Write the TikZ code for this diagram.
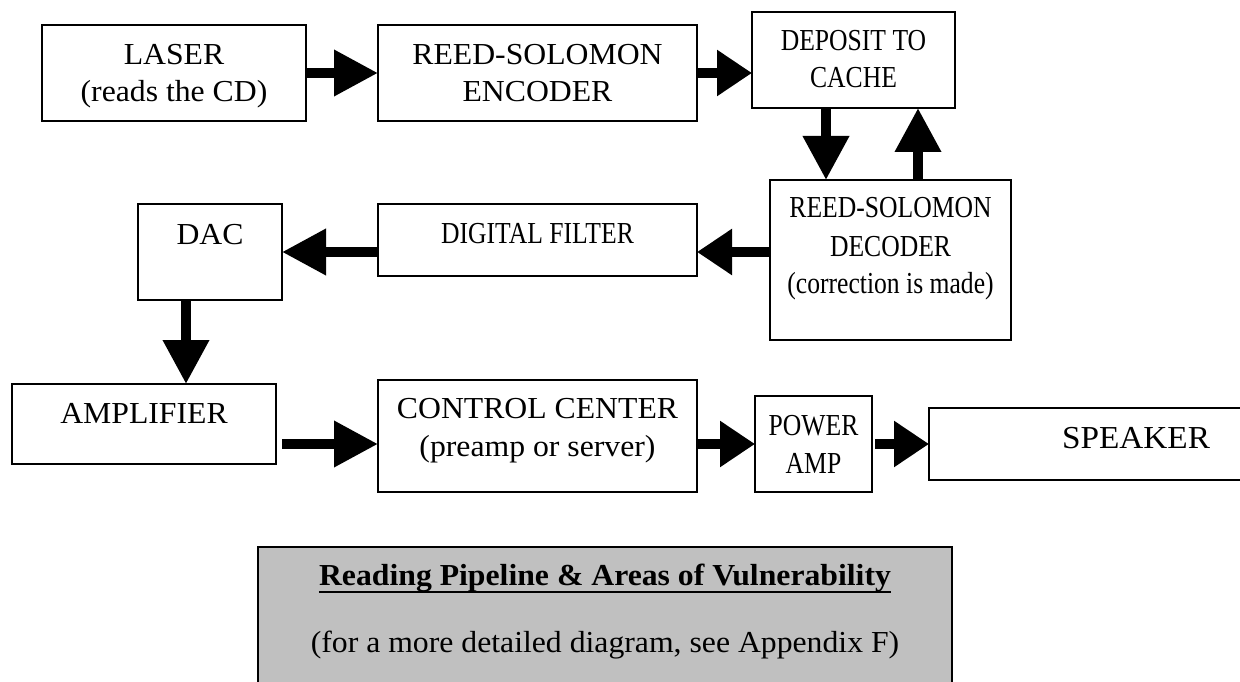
\documentclass[tikz,border=0pt]{standalone}
\usepackage{fontspec}
\setmainfont{Liberation Serif}[FakeStretch=1.04]
\newfontfamily\narrowfont{Liberation Serif}[FakeStretch=0.84]
\usetikzlibrary{arrows.meta}
\definecolor{notegray}{HTML}{C0C0C0}
\tikzset{
  box/.style={draw, line width=1.1pt, inner sep=0pt, outer sep=0pt, fill=white},
  lbl/.style={anchor=base, inner sep=0pt, font=\fontsize{30.5}{38}\selectfont},
  nlbl/.style={lbl, font=\fontsize{30.5}{38}\selectfont\narrowfont},
  blk/.style={line width=10pt, -{Triangle[length=44pt,width=44pt]}},
  blkshort/.style={-{Triangle[length=35pt,width=44pt]}},
}
\begin{document}
\begin{tikzpicture}[x=1pt,y=-1pt]
\useasboundingbox (0,0) rectangle (1240,682);
\clip (0,0) rectangle (1240,682);

% stage boxes
\node[box, minimum width=264pt, minimum height=96pt]  (laser) at (174,73) {};
\node[box, minimum width=319pt, minimum height=96pt]  (enc)   at (537.5,73) {};
\node[box, minimum width=203pt, minimum height=96pt]  (dep)   at (853.5,60) {};
\node[box, minimum width=241pt, minimum height=160pt] (dec)   at (890.5,260) {};
\node[box, minimum width=319pt, minimum height=72pt]  (filt)  at (537.5,240) {};
\node[box, minimum width=144pt, minimum height=96pt]  (dac)   at (210,252) {};
\node[box, minimum width=264pt, minimum height=80pt]  (amp)   at (144,424) {};
\node[box, minimum width=319pt, minimum height=112pt] (ctrl)  at (537.5,436) {};
\node[box, minimum width=117pt, minimum height=96pt]  (pow)   at (813.5,444) {};
\node[box, minimum width=321pt, minimum height=72pt]  (spk)   at (1089.5,444) {};

% box texts
\node[lbl]  (laser-1) at (174,65)  {LASER};
\node[lbl]  (laser-2) at (174,102) {(reads the CD)};
\node[lbl]  (enc-1)   at (537.5,65)  {REED-SOLOMON};
\node[lbl]  (enc-2)   at (537.5,102) {ENCODER};
\node[nlbl] (dep-1)   at (853.5,51) {DEPOSIT TO};
\node[nlbl] (dep-2)   at (853.5,88) {CACHE};
\node[nlbl] (dec-1)   at (890.5,218) {REED-SOLOMON};
\node[nlbl] (dec-2)   at (890.5,256) {DECODER};
\node[nlbl] (dec-3)   at (890.5,293) {(correction is made)};
\node[nlbl] (filt-1)  at (537.5,243) {DIGITAL FILTER};
\node[lbl]  (dac-1)   at (210,244) {DAC};
\node[lbl]  (amp-1)   at (144,423) {AMPLIFIER};
\node[lbl]  (ctrl-1)  at (537.5,418) {CONTROL CENTER};
\node[lbl]  (ctrl-2)  at (537.5,456) {(preamp or server)};
\node[nlbl] (pow-1)   at (813.5,435) {POWER};
\node[nlbl] (pow-2)   at (813.5,473) {AMP};
\node[lbl, font=\fontsize{32}{38}\selectfont] (spk-1) at (1136,448) {SPEAKER};

% block arrows
\coordinate (ampout) at ([xshift=6pt]amp.east);
\coordinate (powout) at ([xshift=3pt]pow.east);
\draw[blk] (laser.east) -- (enc.west);
\draw[blk, blkshort] (enc.east) -- (enc.east -| dep.west);
\draw[blk] ([xshift=-27.5pt]dep.south) -- ([xshift=-27.5pt]dep.south |- dec.north);
\draw[blk] ([xshift=27.5pt]dec.north) -- ([xshift=27.5pt]dec.north |- dep.south);
\draw[blk, blkshort] (dec.west |- dac.east) -- (filt.east |- dac.east);
\draw[blk] (filt.west |- dac.east) -- (dac.east);
\draw[blk] ([xshift=-24pt]dac.south) -- ([xshift=-24pt]dac.south |- amp.north);
\draw[blk] (ampout |- pow.west) -- (ctrl.west |- pow.west);
\draw[blk, blkshort] (ctrl.east |- pow.west) -- (pow.west);
\draw[blk, blkshort] (powout) -- (spk.west);

% caption panel
\node[box, fill=notegray, line width=2pt, minimum width=694pt, minimum height=190pt, anchor=north west] (note) at (258,547) {};
\node[lbl, font=\fontsize{30.5}{38}\selectfont\bfseries] (title) at (605,585) {Reading Pipeline \& Areas of Vulnerability};
\draw[line width=2.5pt] ([yshift=-7pt]title.base west) -- ([yshift=-7pt]title.base east);
\node[lbl] (sub) at (605,652) {(for a more detailed diagram, see Appendix F)};
\end{tikzpicture}
\end{document}
